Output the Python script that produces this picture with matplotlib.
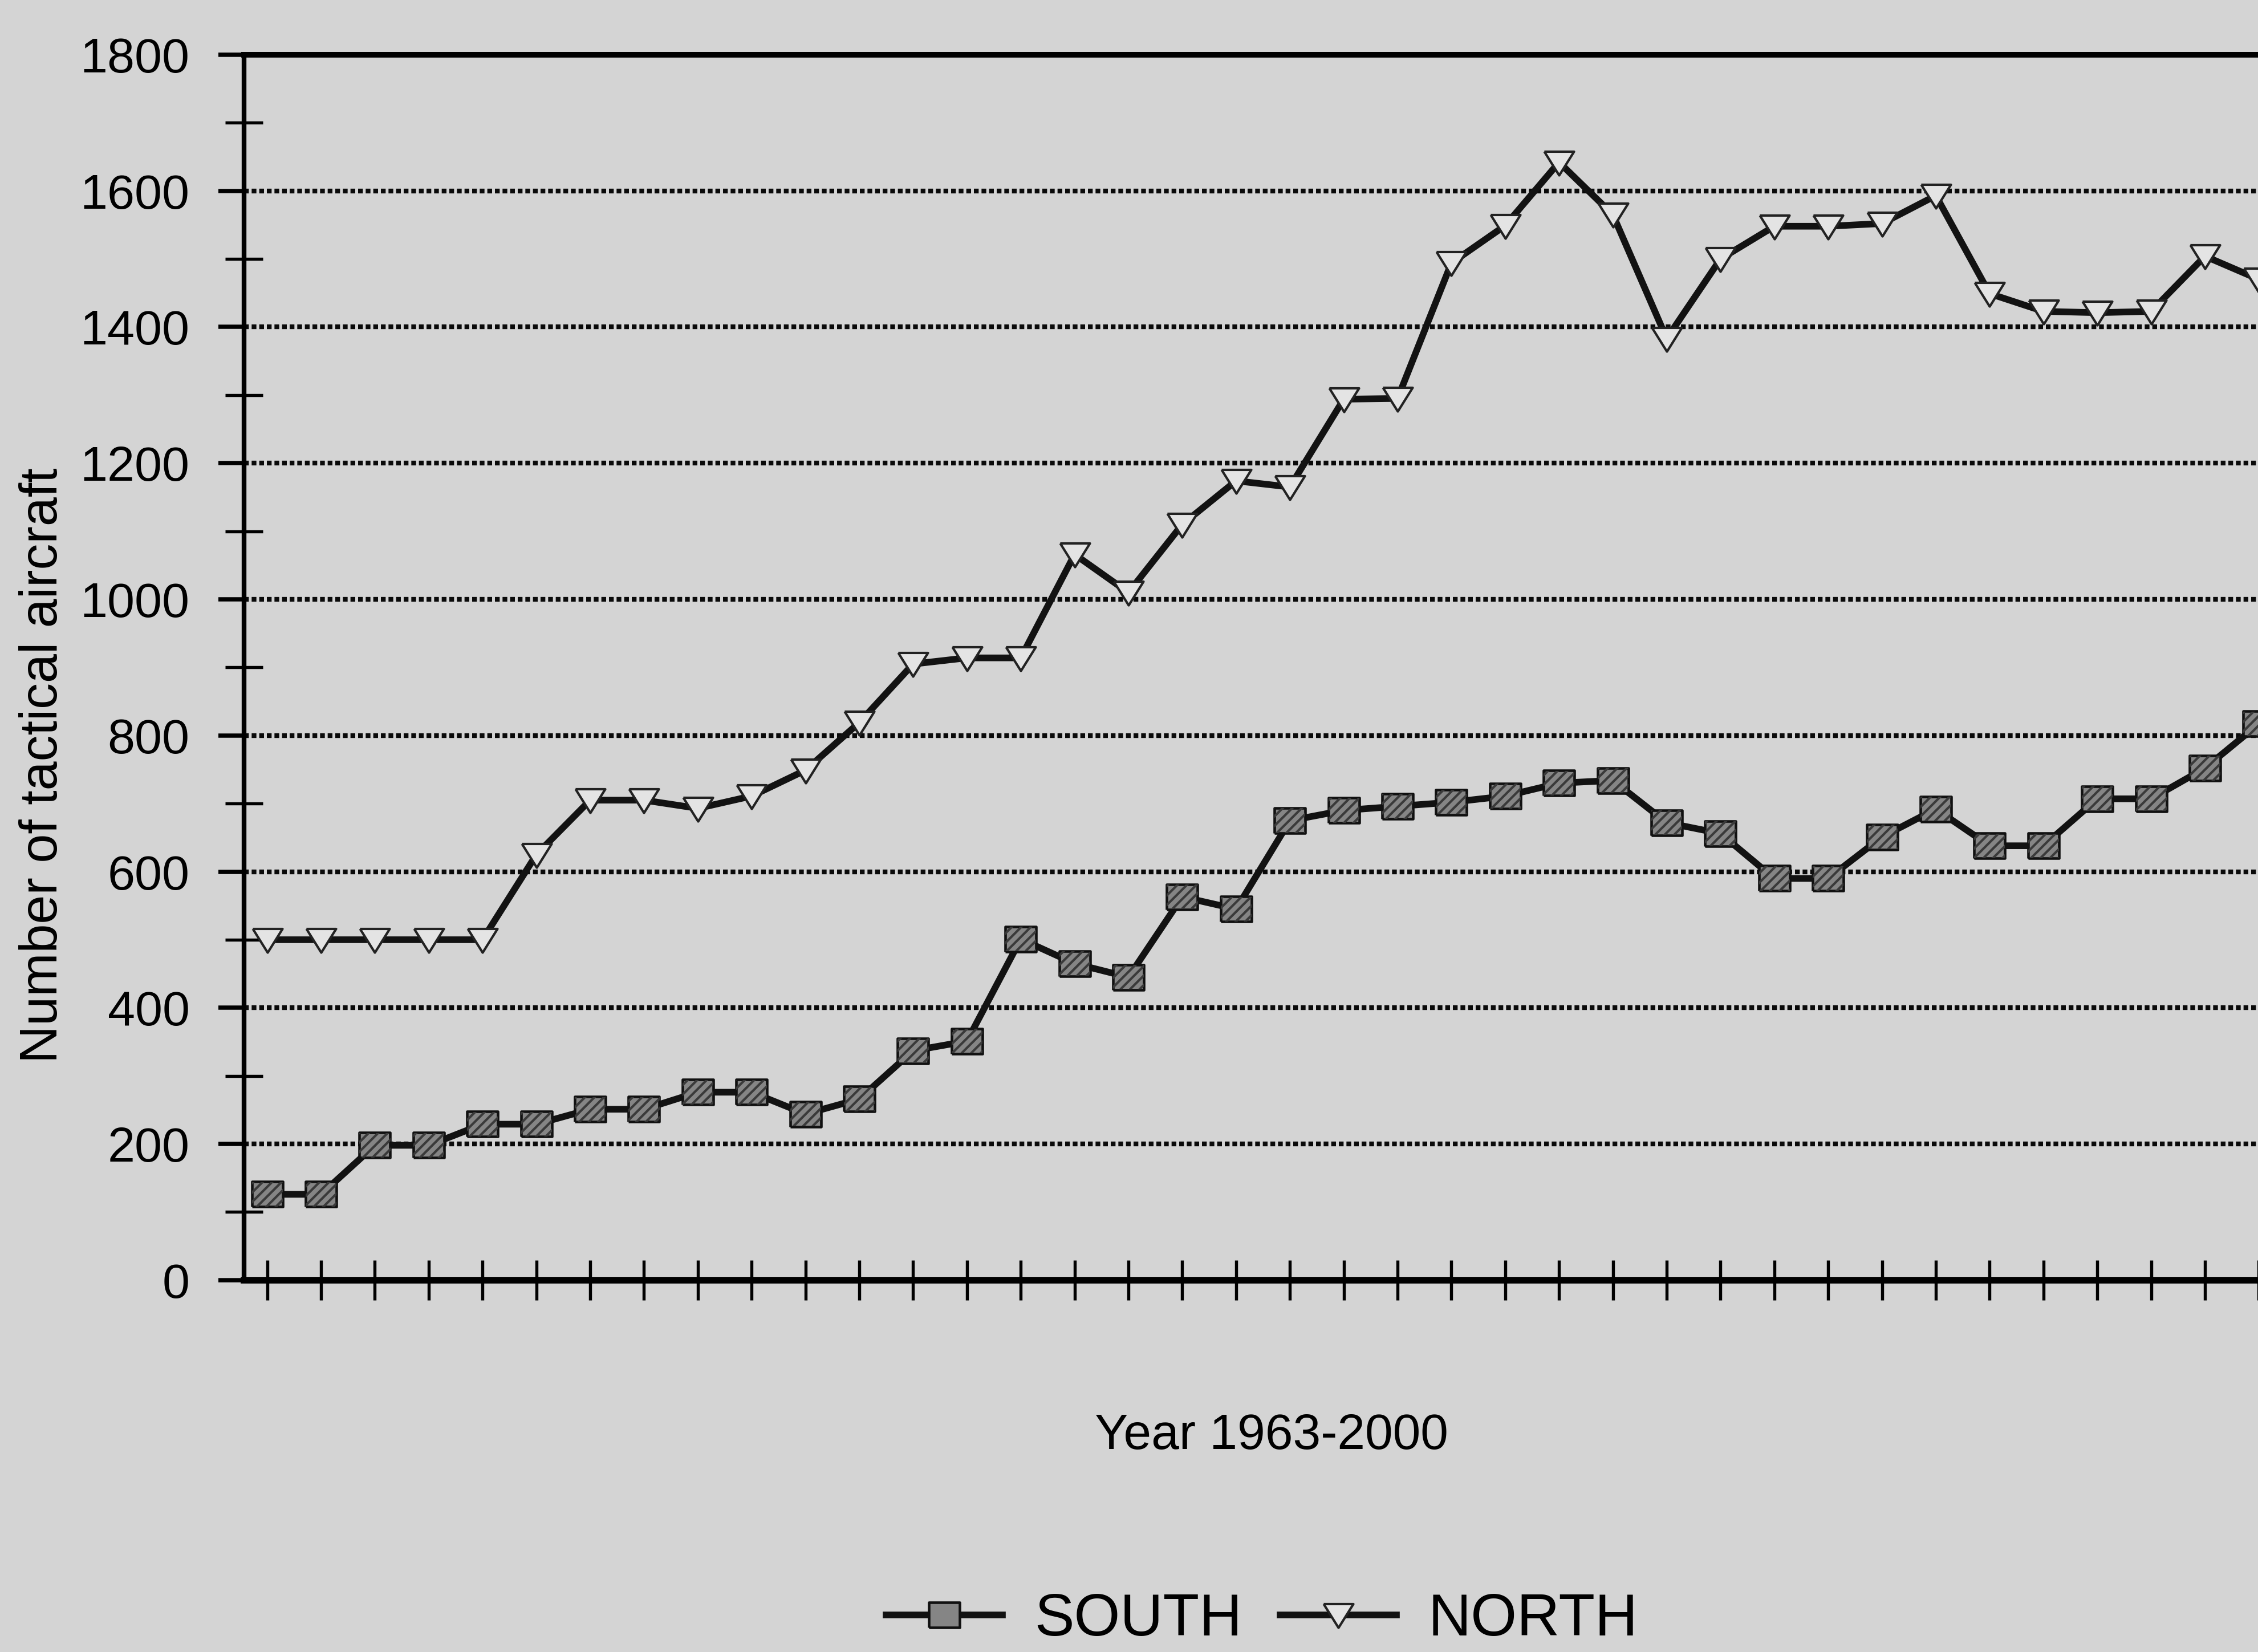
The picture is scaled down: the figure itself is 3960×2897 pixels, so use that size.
import numpy as np
import matplotlib
matplotlib.use("Agg")
import matplotlib.pyplot as plt

years = np.arange(1963, 2001)

south = [126, 126, 198, 198, 229, 229, 251, 251, 276, 276,
         244, 266, 337, 351, 501, 465, 445, 563, 545, 675,
         690, 696, 702, 711, 730, 734, 672, 656, 590, 590,
         651, 692, 638, 638, 707, 707, 752, 817]

north = [500, 500, 500, 500, 500, 625, 705, 705, 693, 711,
         749, 819, 905, 914, 914, 1066, 1010, 1110, 1174, 1165,
         1294, 1295, 1494, 1549, 1642, 1565, 1383, 1500, 1548, 1548,
         1552, 1593, 1449, 1423, 1421, 1423, 1504, 1470]

series_names = ["SOUTH", "NORTH"]
y_ticks = list(range(0, 1801, 200))

plt.rcParams['font.family'] = ['Liberation Sans', 'DejaVu Sans']
bg = '#d4d4d4'

fig = plt.figure(figsize=(13.2, 9.6567), dpi=300, facecolor=bg)
ax = fig.add_axes([0.108, 0.2251, 0.8995, 0.7418])
ax.set_facecolor(bg)

# slightly squat markers like the scanned original
sq = [(-1, -0.8), (1, -0.8), (1, 0.8), (-1, 0.8), (-1, -0.8)]
tri = [(-1, 0.75), (1, 0.75), (0, -0.85), (-1, 0.75)]

l1, = ax.plot(years, south, color='#121212', lw=2.8, marker=sq, ms=13,
              mfc='#858585', mec='#111111', mew=1.1, zorder=4)
ax.scatter(years, south, marker=sq, s=169, facecolor='none',
           edgecolor='#3a3a3a', hatch='//////', linewidths=0, zorder=5)
l2, = ax.plot(years, north, color='#121212', lw=2.8, marker=tri, ms=12.5,
              mfc='#e4e4e4', mec='#222222', mew=1.0, zorder=4)

ax.set_xlim(1963 - 0.434, 1963 + 37.3)
ax.set_ylim(0, 1800)
ax.set_xticks(years)
ax.set_yticks(y_ticks)
ax.set_yticks(range(100, 1800, 200), minor=True)

ax.set_axisbelow(True)
ax.yaxis.grid(True, which='major', color='#0a0a0a', linestyle=(0, (1, 0.6)), linewidth=2.0)

ax.spines['right'].set_visible(False)
ax.spines['top'].set_linewidth(2.4)
ax.spines['left'].set_linewidth(2.0)
ax.spines['bottom'].set_linewidth(2.8)

ax.tick_params(axis='x', direction='inout', length=17, width=1.3, labelbottom=False)
ax.tick_params(axis='y', which='major', direction='out', length=10.8, width=1.8,
               pad=12, labelsize=20.7)
ax.tick_params(axis='y', which='minor', direction='inout', length=16, width=1.3)

ax.set_ylabel('Number of tactical aircraft', fontsize=22)
ax.yaxis.set_label_coords(-0.0867, 0.42)

fig.text(0.563, 0.1305, 'Year 1963-2000', ha='center', va='center', fontsize=21)

fig.legend([l1, l2], series_names, loc='center', bbox_to_anchor=(0.559, 0.019),
           ncol=2, frameon=False, fontsize=25, handlelength=1.96,
           handletextpad=0.54, columnspacing=0.63, borderaxespad=0)

fig.savefig('out.png', dpi=300, facecolor=bg)
